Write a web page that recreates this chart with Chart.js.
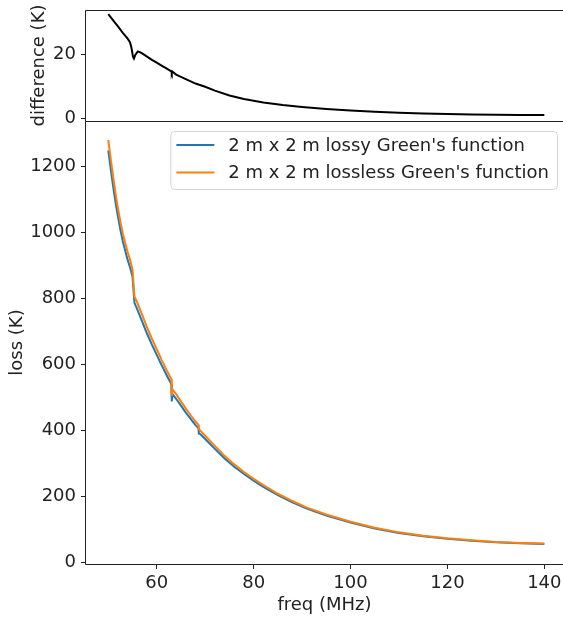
<!DOCTYPE html>
<html>
<head>
<meta charset="utf-8">
<script src="https://cdn.jsdelivr.net/npm/chart.js@4.4.0/dist/chart.umd.min.js"></script>
<style>
  html, body { margin: 0; padding: 0; background: #fff; overflow: hidden; }
  #wrap { position: relative; width: 563px; height: 619px; }
  #diffChart { position: absolute; left: 0; top: 0; z-index: 2; }
  #lossChart { position: absolute; left: 0; top: 121px; z-index: 1; }
</style>
</head>
<body>
<div id="wrap">
  <canvas id="diffChart" width="563" height="135"></canvas>
  <canvas id="lossChart" width="563" height="498"></canvas>
</div>
<script>
// Difference panel (K)
const freqDiff = [50, 51, 52, 53, 54, 54.5, 54.8, 55.1, 55.3, 55.6, 56.1, 56.6, 57, 58, 59, 60, 61, 62, 63, 63.1, 63.2, 64, 65, 66, 67, 68, 70, 72, 75, 78, 82, 86, 90, 95, 100, 105, 110, 115, 120, 125, 130, 135, 140];
const diffK = [32.4, 30.5, 28.6, 26.6, 24.8, 23.6, 21.8, 19.2, 18.6, 19.8, 20.8, 20.5, 20.2, 19.2, 18.2, 17.3, 16.4, 15.5, 14.6, 14.1, 14.6, 13.6, 12.9, 12.2, 11.5, 10.8, 9.8, 8.6, 7.1, 6.0, 4.9, 4.1, 3.5, 2.9, 2.4, 2.0, 1.7, 1.5, 1.35, 1.2, 1.1, 1.05, 1.0];

// Loss panel (K)
const freqLoss = [50, 50.5, 51, 51.5, 52, 52.5, 53, 54, 54.5, 55, 55.4, 56, 57, 58, 59, 60, 61, 62, 63, 63.1, 63.25, 64, 65, 66, 67, 68, 68.6, 68.7, 69, 70, 72, 74, 76, 78, 80, 82, 85, 88, 91, 95, 100, 105, 110, 115, 120, 125, 130, 135, 140];
const lossyK = [1249, 1193, 1140, 1091, 1048, 1008, 973, 917, 894, 866, 787, 766, 730, 693, 660, 629, 598, 569, 541, 488, 510, 496, 475, 454, 435, 416, 407, 390, 389, 374, 344, 315, 290, 268, 248, 229, 204, 182, 163, 142, 121, 103, 89, 79.5, 71.7, 65.8, 60.9, 58, 56];
const losslessK = [1281, 1223, 1169, 1118, 1073, 1032, 997, 940, 917, 887, 806, 787, 750, 712, 678, 646, 614, 584, 556, 505, 524, 510, 488, 466, 446, 427, 417, 404, 399, 384, 353, 323, 297, 274, 253, 234, 208, 186, 166, 145, 123, 105, 91, 81, 73, 67, 62, 59, 57];

const seriesNames = ["2 m x 2 m lossy Green's function", "2 m x 2 m lossless Green's function"];
const diffTicks = [0, 20];
const lossTicks = [0, 200, 400, 600, 800, 1000, 1200];
const freqTicks = [60, 80, 100, 120, 140];

const FONT = { family: "'DejaVu Sans', sans-serif", size: 18 };
const INK = "#222";

const toXY = (xs, ys) => xs.map((x, i) => ({ x: x, y: ys[i] }));

// axes frame: left, top and bottom spines (right one falls off the page)
const framePlugin = {
  id: "frame",
  afterDraw(chart) {
    const { ctx, chartArea: a } = chart;
    const l = Math.round(a.left) - 0.5, t = Math.round(a.top) + 0.5, b = Math.round(a.bottom) + 0.5;
    ctx.save();
    ctx.strokeStyle = INK;
    ctx.lineWidth = 1;
    ctx.beginPath();
    ctx.moveTo(chart.width + 5, t);
    ctx.lineTo(l, t);
    ctx.lineTo(l, b);
    ctx.lineTo(chart.width + 5, b);
    ctx.stroke();
    ctx.restore();
  }
};

// boxed legend in the upper right corner
const boxLegend = {
  id: "boxLegend",
  afterDraw(chart) {
    const { ctx, chartArea: a } = chart;
    const sets = chart.data.datasets;
    ctx.save();
    ctx.font = FONT.size + "px " + FONT.family;
    const textW = Math.max(...sets.map(d => ctx.measureText(d.label).width));
    const w = 6 + 38 + 14 + textW + 8;
    const h = 58;
    const right = 557;
    const left = right - w;
    const top = a.top + 10;
    ctx.beginPath();
    ctx.roundRect(left + 0.5, top + 0.5, w, h, 4);
    ctx.fillStyle = "rgba(255,255,255,0.8)";
    ctx.fill();
    ctx.strokeStyle = "#d4d4d4";
    ctx.lineWidth = 1;
    ctx.stroke();
    sets.forEach((d, i) => {
      const y = top + 14 + i * 27.5;
      ctx.strokeStyle = d.borderColor;
      ctx.lineWidth = 2;
      ctx.beginPath();
      ctx.moveTo(left + 6, y);
      ctx.lineTo(left + 44, y);
      ctx.stroke();
      ctx.fillStyle = INK;
      ctx.textBaseline = "middle";
      ctx.fillText(d.label, left + 58, y + 1);
    });
    ctx.restore();
  }
};

const noPad = s => { s.paddingTop = 0; s.paddingBottom = 0; s.paddingLeft = 0; s.paddingRight = 0; };

const yAxisCommon = {
  position: "left",
  border: { display: false },
  grid: { drawOnChartArea: false, drawTicks: true, tickLength: 5, color: INK },
  ticks: { font: FONT, color: INK, padding: 5, callback: v => String(v) },
  afterFit: s => { s.width = 86; noPad(s); }
};

// x range runs past the right page edge, as in the original figure
const X_MIN = 45.4, X_MAX = 143.85;

// top panel: difference
new Chart(document.getElementById("diffChart"), {
  type: "line",
  data: {
    datasets: [{
      data: toXY(freqDiff, diffK),
      borderColor: "#000",
      borderWidth: 2,
      pointRadius: 0,
      tension: 0
    }]
  },
  options: {
    responsive: false,
    animation: false,
    layout: { padding: { top: 10, right: 0, bottom: 14, left: 0 } },
    plugins: { legend: { display: false }, tooltip: { enabled: false } },
    scales: {
      x: { type: "linear", min: X_MIN, max: X_MAX, display: false },
      y: Object.assign({}, yAxisCommon, {
        min: -0.85, max: 33.7,
        afterBuildTicks: s => { s.ticks = diffTicks.map(v => ({ value: v })); },
        title: { display: true, text: "difference (K)", font: FONT, color: INK, padding: { top: 29 } }
      })
    }
  },
  plugins: [framePlugin]
});

// bottom panel: loss
new Chart(document.getElementById("lossChart"), {
  type: "line",
  data: {
    datasets: [
      {
        label: seriesNames[0],
        data: toXY(freqLoss, lossyK),
        borderColor: "#1f77b4",
        borderWidth: 2,
        pointRadius: 0,
        tension: 0,
        order: 1
      },
      {
        label: seriesNames[1],
        data: toXY(freqLoss, losslessK),
        borderColor: "#ff7f0e",
        borderWidth: 2,
        pointRadius: 0,
        tension: 0,
        order: 0
      }
    ]
  },
  options: {
    responsive: false,
    animation: false,
    layout: { padding: { top: 0, right: 0, bottom: 0, left: 0 } },
    plugins: { legend: { display: false }, tooltip: { enabled: false } },
    scales: {
      x: {
        type: "linear", min: X_MIN, max: X_MAX,
        border: { display: false },
        grid: { drawOnChartArea: false, drawTicks: true, tickLength: 5, color: INK },
        ticks: { font: FONT, color: INK, padding: 4, maxRotation: 0, callback: v => String(v) },
        afterBuildTicks: s => { s.ticks = freqTicks.map(v => ({ value: v })); },
        afterFit: s => { s.height = 55; noPad(s); },
        title: { display: true, text: "freq (MHz)", font: FONT, color: INK, padding: { bottom: 3 } }
      },
      y: Object.assign({}, yAxisCommon, {
        min: -4.9, max: 1338,
        afterBuildTicks: s => { s.ticks = lossTicks.map(v => ({ value: v })); },
        title: { display: true, text: "loss (K)", font: FONT, color: INK, padding: { top: 7 } }
      })
    }
  },
  plugins: [framePlugin, boxLegend]
});
</script>
</body>
</html>
